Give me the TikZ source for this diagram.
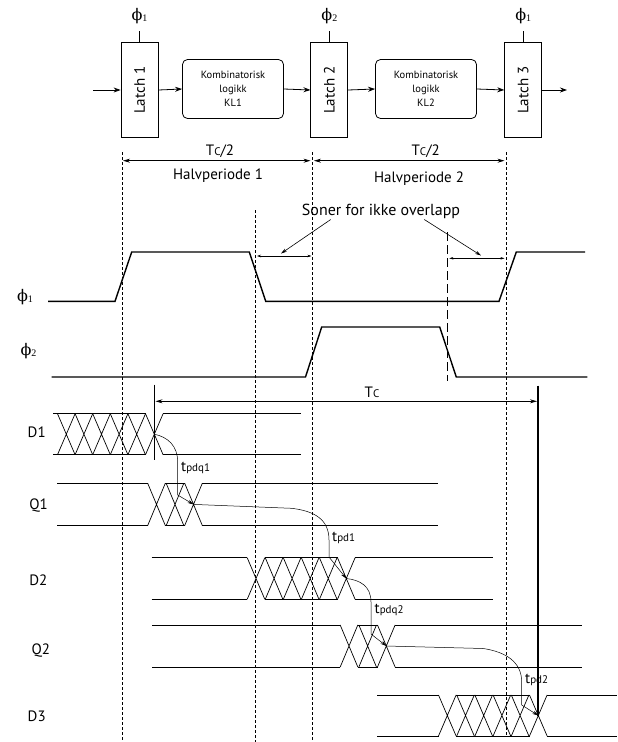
\documentclass[tikz,border=0pt]{standalone}
\usepackage{fontspec}
\setmainfont{PT Sans}
\newfontfamily\grk{DejaVu Serif}
\newfontfamily\digs{Liberation Serif}
\usetikzlibrary{arrows.meta,positioning}

% smaller letters after T and t
\newcommand{\lo}[1]{{\fontsize{11}{12}\selectfont #1}}
% clock phase with its number
\newcommand{\ph}[1]{{\grk ϕ}\raisebox{-1pt}{\digs\fontsize{10}{10}\selectfont #1}}

% data line: start, first crossing, steps, last crossing, end, top, bottom
\newcommand{\bus}[7]{%
  \draw[sig] (#1,#6) -- ({#2-\hw},#6) ({#2+\hw},#6) -- ({#4-\hw},#6) ({#4+\hw},#6) -- (#5,#6);
  \draw[sig] (#1,#7) -- ({#2-\hw},#7) ({#2+\hw},#7) -- ({#4-\hw},#7) ({#4+\hw},#7) -- (#5,#7);
  \foreach \k in {0,...,#3}
    {\pgfmathsetmacro\cx{#2+\k*(#4-#2)/#3}
     \draw[sig] ({\cx-\hw},#6) -- ({\cx+\hw},#7) ({\cx-\hw},#7) -- ({\cx+\hw},#6);}}

\begin{document}
\begin{tikzpicture}[x=1pt,y=-1pt,
    latch/.style={draw,line width=0.8pt,minimum width=37pt,minimum height=95pt,
      inner sep=0pt,font=\fontsize{15}{18}\selectfont},
    logic/.style={draw,line width=0.8pt,rounded corners=5pt,minimum width=101pt,
      minimum height=59pt,align=center,font=\fontsize{10.5}{14}\selectfont},
    flow/.style={-{Stealth[length=7pt,width=5pt]},line width=0.8pt},
    clk/.style={font=\fontsize{16}{18}\selectfont,inner ysep=7pt},
    lbl/.style={font=\fontsize{15}{18}\selectfont,inner sep=1pt},
    dly/.style={font=\fontsize{15}{16}\selectfont,inner sep=0pt,anchor=west},
    span/.style={{Stealth[length=7pt,width=4pt]}-{Stealth[length=7pt,width=4pt]},line width=0.7pt},
    gap/.style={{Stealth[length=4pt,width=2.5pt]}-{Stealth[length=4pt,width=2.5pt]},line width=0.5pt},
    ptr/.style={-{Stealth[length=6pt,width=3.5pt]},line width=0.6pt},
    delay/.style={-{Stealth[length=6pt,width=3.5pt]},line width=0.5pt},
    guide/.style={line width=0.6pt,dash pattern=on 3pt off 2pt},
    longdash/.style={line width=0.8pt,dash pattern=on 9pt off 4pt},
    clock/.style={line width=1.4pt,line join=miter},
    sig/.style={line width=0.7pt}]
\useasboundingbox (0,0) rectangle (618,742);
\def\hw{8.8}

% latches and logic
\node[latch] (l1) at (139.5,90) {\rotatebox{90}{Latch 1}};
\node[latch] (l2) at (329.3,90) {\rotatebox{90}{Latch 2}};
\node[latch] (l3) at (523.2,90) {\rotatebox{90}{Latch 3}};
\node[logic] (kl1) at (233,89) {Kombinatorisk\\logikk\\KL1};
\node[logic] (kl2) at (426,89) {Kombinatorisk\\logikk\\KL2};
\node[clk,above=11pt of l1] (ph1) {\ph{1}};
\node[clk,above=11pt of l2] (ph2) {\ph{2}};
\node[clk,above=11pt of l3] (ph3) {\ph{1}};
\foreach \n/\c in {l1/ph1,l2/ph2,l3/ph3}
  \draw[line width=0.8pt] (\n.north) -- (\c.south);
\coordinate (din) at (93,90);
\coordinate (dout) at (567,90);
\draw[flow] (din) -- (l1.west);
\draw[flow] (l1.east) -- (kl1.west);
\draw[flow] (kl1.east) -- (l2.west);
\draw[flow] (l2.east) -- (kl2.west);
\draw[flow] (kl2.east) -- (l3.west);
\draw[flow] (l3.east) -- (dout);

% half periods
\foreach \gx/\gy/\gz in {122.7/152/742,312.3/152/742,255.7/210/742,506.7/152/736}
  \draw[guide] (\gx,\gy) -- (\gx,\gz);
\draw[longdash] (447.3,232) -- (447.3,381);
\coordinate (h0) at (123,160.7);
\coordinate (h1) at (310.5,160.7);
\coordinate (h2) at (314,160.7);
\coordinate (h3) at (504.5,160.7);
\draw[span] (h0) -- (h1);
\draw[span] (h2) -- (h3);
\node[lbl] (tc1) at (220,151) {T\lo{C}/2};
\node[lbl] (tc2) at (425.7,151) {T\lo{C}/2};
\node[lbl] (hp1) at (218,175.7) {Halvperiode 1};
\node[lbl] (hp2) at (419,179) {Halvperiode 2};

% non overlap
\node[lbl,font=\fontsize{16}{18}\selectfont] (soner) at (381,211) {Soner for ikke overlapp};
\coordinate (z1) at (281,253.5);
\coordinate (z2) at (481,255.5);
\draw[ptr] ([xshift=30pt]soner.south west) -- (z1);
\draw[ptr] ([xshift=-37pt]soner.south east) -- (z2);
\draw[gap] (257,256) -- (311.4,256);
\draw[gap] (449.3,258.3) -- (504.5,258.3);

% clocks
\node[clk,inner sep=0pt] (w1) at (25,297) {\ph{1}};
\node[clk,inner sep=0pt] (w2) at (28.5,351) {\ph{2}};
\draw[clock] (48,301.3) -- (115,301.3) -- (131.7,252) -- (249.3,252)
  -- (265.7,301.3) -- (499,301.3) -- (516.3,252) -- (585,252);
\draw[clock] (51.7,377) -- (305.5,377) -- (321.7,327) -- (439.7,327)
  -- (456.3,377) -- (587.3,377);

% cycle time
\coordinate (tcl) at (155.5,401.3);
\coordinate (tcr) at (537,401.3);
\draw[span] (tcl) -- (tcr);
\node[lbl] (tc) at (372,392) {T\lo{C}};
\draw[line width=0.7pt] (154.3,384.7) -- (154.3,459.7);
\draw[line width=1.6pt] (538,385.7) -- (538,716);

% data signals
\node[lbl] (sd1) at (36.7,432) {D1};
\node[lbl] (sq1) at (38.7,506) {Q1};
\node[lbl] (sd2) at (38.3,580) {D2};
\node[lbl] (sq2) at (40.8,651) {Q2};
\node[lbl] (sd3) at (36.7,716.7) {D3};
\draw[sig] (53,413.7) -- (145.5,413.7) (53,454.7) -- (145.5,454.7);
\foreach \k in {0,...,5}
  {\pgfmathsetmacro\cx{154.3-\k*17.6}
   \draw[sig] ({\cx-\hw},413.7) -- ({\cx+\hw},454.7) ({\cx-\hw},454.7) -- ({\cx+\hw},413.7);}
\draw[sig] (163.1,413.7) -- (301,413.7) (163.1,454.7) -- (301,454.7);
\bus{57}{156.5}{2}{193.5}{437.5}{483.3}{525.5}
\bus{151.7}{256}{5}{346.3}{493}{557.7}{599.3}
\bus{152}{349}{2}{386.3}{582.3}{625}{667}
\bus{377.3}{447.3}{5}{538.3}{617}{695}{736}

% delays
\coordinate (xd1) at (154.3,434.2);
\coordinate (xq1) at (193.5,504.4);
\coordinate (xd2) at (346.3,578.5);
\coordinate (xq2) at (386.3,646);
\coordinate (xd3) at (538.3,715.5);
\draw[delay] (xd1) .. controls (168,437) and (177.7,446) .. (177.7,462) -- (177.7,495) -- (xq1);
\draw[delay] (xq1) -- (291.7,508.3) .. controls (314,511) and (329,519) .. (329,540) -- (329,557) -- (xd2);
\draw[delay] (xd2) .. controls (360,580) and (371,586) .. (371,602) -- (371,634) -- (xq2);
\draw[delay] (xq2) -- (483.3,648.5) .. controls (506,652) and (521.7,662) .. (521.7,682) -- (521.7,705) -- (xd3);
\node[dly] (t1) at (181,468) {t\lo{pdq1}};
\node[dly] (t2) at (332,538) {t\lo{pd1}};
\node[dly] (t3) at (374.5,609.5) {t\lo{pdq2}};
\node[dly] (t4) at (525,679.5) {t\lo{pd2}};
\end{tikzpicture}
\end{document}
